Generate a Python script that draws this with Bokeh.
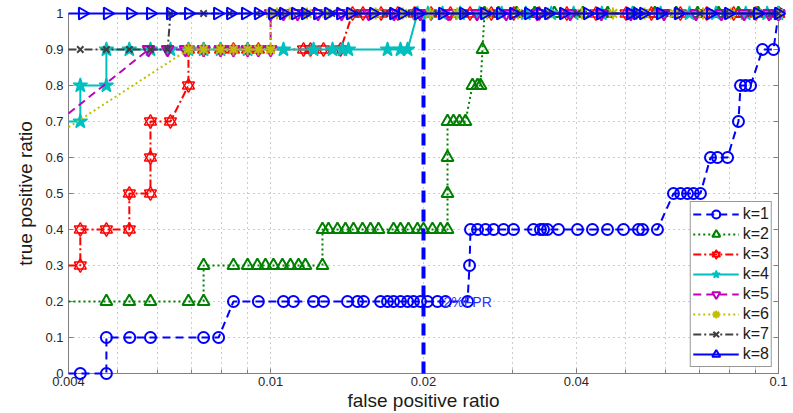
import math
from bokeh.plotting import figure
from bokeh.models import (Range1d, FixedTicker, LinearAxis, Legend, LegendItem,
                          CustomJSTickFormatter)
from bokeh.embed import file_html
from bokeh.resources import INLINE
from bokeh.core.properties import value

FONT = "Liberation Sans"

# ---------------- axes / ticks ----------------
x_major_ticks = [0.004, 0.01, 0.02, 0.04, 0.1]
x_tick_labels = ["0.004", "0.01", "0.02", "0.04", "0.1"]
x_minor_ticks = [0.005, 0.006, 0.007, 0.008, 0.009, 0.03, 0.05, 0.06, 0.07, 0.08, 0.09]
y_ticks = [0.0, 0.1, 0.2, 0.3, 0.4, 0.5, 0.6, 0.7, 0.8, 0.9, 1.0]
y_tick_labels = ["0", "0.1", "0.2", "0.3", "0.4", "0.5", "0.6", "0.7", "0.8", "0.9", "1"]

series_labels = ["k=1", "k=2", "k=3", "k=4", "k=5", "k=6", "k=7", "k=8"]

# ---------------- data (false positive ratio, true positive ratio) ----------------
k1_fpr = [0.004, 0.00422, 0.00475, 0.00475, 0.00528, 0.0058, 0.00738, 0.0079,
          0.00845, 0.00946, 0.0106, 0.01109, 0.01215, 0.01271, 0.01417, 0.01483,
          0.01524, 0.01646, 0.01699, 0.01746, 0.01802, 0.01861, 0.01911, 0.01973,
          0.02037, 0.02131, 0.0221, 0.02442,
          0.02464,
          0.02475, 0.02555, 0.0265, 0.02748, 0.02875, 0.03008, 0.03293, 0.03399,
          0.03446, 0.03509, 0.03688, 0.0402, 0.04303, 0.04606, 0.04952, 0.053,
          0.05399, 0.05776,
          0.06212, 0.06413, 0.0662, 0.0680, 0.0702,
          0.07347, 0.07584, 0.07937,
          0.0834,
          0.08418, 0.0861, 0.0881,
          0.093, 0.09776,
          0.1]
k1_tpr = [0.0, 0.0, 0.0, 0.1, 0.1, 0.1, 0.1, 0.1,
          0.2, 0.2, 0.2, 0.2, 0.2, 0.2, 0.2, 0.2,
          0.2, 0.2, 0.2, 0.2, 0.2, 0.2, 0.2, 0.2,
          0.2, 0.2, 0.2, 0.2,
          0.3,
          0.4, 0.4, 0.4, 0.4, 0.4, 0.4, 0.4, 0.4,
          0.4, 0.4, 0.4, 0.4, 0.4, 0.4, 0.4, 0.4,
          0.4, 0.4,
          0.5, 0.5, 0.5, 0.5, 0.5,
          0.6, 0.6, 0.6,
          0.7,
          0.8, 0.8, 0.8,
          0.9, 0.9,
          1.0]

k2_fpr = [0.004, 0.00475, 0.00527, 0.0058, 0.00689, 0.00738,
          0.00738, 0.00845, 0.00901, 0.00942, 0.00977, 0.01013, 0.01055, 0.01094,
          0.01135, 0.01171, 0.01265,
          0.01265, 0.013, 0.01354, 0.01404, 0.01456, 0.01517, 0.01573, 0.01631,
          0.01746, 0.01802, 0.01868, 0.01946, 0.02, 0.02083, 0.0216, 0.0223,
          0.0223, 0.0223,
          0.0223, 0.02291, 0.02354, 0.02419,
          0.02497, 0.02555, 0.0259,
          0.02613,
          0.02637, 0.0281, 0.0305, 0.0331, 0.0362, 0.0412, 0.0461, 0.0518,
          0.0571, 0.0629, 0.0693, 0.0762, 0.0834, 0.0912, 0.1]
k2_tpr = [0.2, 0.2, 0.2, 0.2, 0.2, 0.2,
          0.3, 0.3, 0.3, 0.3, 0.3, 0.3, 0.3, 0.3,
          0.3, 0.3, 0.3,
          0.4, 0.4, 0.4, 0.4, 0.4, 0.4, 0.4, 0.4,
          0.4, 0.4, 0.4, 0.4, 0.4, 0.4, 0.4, 0.4,
          0.5, 0.6,
          0.7, 0.7, 0.7, 0.7,
          0.8, 0.8, 0.8,
          0.9,
          1.0, 1.0, 1.0, 1.0, 1.0, 1.0, 1.0, 1.0,
          1.0, 1.0, 1.0, 1.0, 1.0, 1.0, 1.0]

k3_fpr = [0.004, 0.00422, 0.00422, 0.00475, 0.00527, 0.00527, 0.0058, 0.0058,
          0.0058, 0.00635, 0.00689, 0.00689,
          0.00738, 0.00797, 0.00845, 0.00901, 0.00946, 0.01161, 0.01198, 0.01271,
          0.01373,
          0.0145, 0.0152, 0.0165, 0.0178, 0.0192, 0.0207, 0.0226, 0.0247, 0.0272,
          0.0301, 0.0338, 0.0383, 0.0437, 0.0501, 0.0562, 0.0641, 0.0722, 0.0816,
          0.0903, 0.1]
k3_tpr = [0.3, 0.3, 0.4, 0.4, 0.4, 0.5, 0.5, 0.6,
          0.7, 0.7, 0.8, 0.9,
          0.9, 0.9, 0.9, 0.9, 0.9, 0.9, 0.9, 0.9,
          0.9,
          1.0, 1.0, 1.0, 1.0, 1.0, 1.0, 1.0, 1.0, 1.0,
          1.0, 1.0, 1.0, 1.0, 1.0, 1.0, 1.0, 1.0, 1.0,
          1.0, 1.0]

k4_fpr = [0.004, 0.00422, 0.00422, 0.00475, 0.00475,
          0.00527, 0.0058, 0.00635, 0.00689, 0.00738, 0.00797, 0.00901, 0.0106,
          0.01215, 0.01324, 0.01385, 0.01423, 0.01699, 0.01802, 0.01861,
          0.01946, 0.0204, 0.0218, 0.0236, 0.0258, 0.0285, 0.0318, 0.0357, 0.0395,
          0.0449, 0.0516, 0.0586, 0.0668, 0.0753, 0.0862, 0.095, 0.1]
k4_tpr = [0.7, 0.7, 0.8, 0.8, 0.9,
          0.9, 0.9, 0.9, 0.9, 0.9, 0.9, 0.9, 0.9,
          0.9, 0.9, 0.9, 0.9, 0.9, 0.9, 0.9,
          1.0, 1.0, 1.0, 1.0, 1.0, 1.0, 1.0, 1.0, 1.0,
          1.0, 1.0, 1.0, 1.0, 1.0, 1.0, 1.0, 1.0]

k5_fpr = [0.004,
          0.00575, 0.00627, 0.0068, 0.00738, 0.00797, 0.00845, 0.00901, 0.00946, 0.01,
          0.01, 0.0106, 0.0113, 0.0124, 0.0138, 0.0156, 0.0175, 0.0197, 0.0224,
          0.0255, 0.0291, 0.0335, 0.0389, 0.0448, 0.0512, 0.0595, 0.0688, 0.0772,
          0.0856, 0.0958, 0.1]
k5_tpr = [0.722,
          0.9, 0.9, 0.9, 0.9, 0.9, 0.9, 0.9, 0.9, 0.9,
          1.0, 1.0, 1.0, 1.0, 1.0, 1.0, 1.0, 1.0, 1.0,
          1.0, 1.0, 1.0, 1.0, 1.0, 1.0, 1.0, 1.0, 1.0,
          1.0, 1.0, 1.0]

k6_fpr = [0.004,
          0.00689, 0.00738, 0.00797, 0.00845, 0.00901, 0.00946, 0.01,
          0.01, 0.0103, 0.0109, 0.0118, 0.0129, 0.0143, 0.0161, 0.0182, 0.0206,
          0.0233, 0.0267, 0.0307, 0.0352, 0.041, 0.0472, 0.0545, 0.0624, 0.071,
          0.0805, 0.0905, 0.1]
k6_tpr = [0.684,
          0.9, 0.9, 0.9, 0.9, 0.9, 0.9, 0.9,
          1.0, 1.0, 1.0, 1.0, 1.0, 1.0, 1.0, 1.0, 1.0,
          1.0, 1.0, 1.0, 1.0, 1.0, 1.0, 1.0, 1.0, 1.0,
          1.0, 1.0, 1.0]

k7_fpr = [0.004, 0.00422, 0.00475, 0.00527, 0.0058, 0.00627,
          0.00635, 0.00738, 0.0083, 0.0094, 0.0105, 0.0117, 0.0132, 0.0149, 0.0168,
          0.0189, 0.0213, 0.0241, 0.0273, 0.031, 0.0352, 0.0401, 0.0456, 0.052,
          0.0598, 0.07, 0.0784, 0.0883, 0.0968, 0.1]
k7_tpr = [0.9, 0.9, 0.9, 0.9, 0.9, 0.9,
          1.0, 1.0, 1.0, 1.0, 1.0, 1.0, 1.0, 1.0, 1.0,
          1.0, 1.0, 1.0, 1.0, 1.0, 1.0, 1.0, 1.0, 1.0,
          1.0, 1.0, 1.0, 1.0, 1.0, 1.0]

k8_fpr = [0.004, 0.00426, 0.00477, 0.0053, 0.0058, 0.00635, 0.00689, 0.00786,
          0.00834, 0.00892, 0.00946, 0.01009, 0.0106, 0.01119, 0.01171, 0.01237,
          0.013, 0.01373, 0.01436, 0.01594, 0.01746, 0.01818, 0.01955, 0.0218,
          0.02398, 0.02637, 0.02835, 0.03008, 0.03219, 0.03399, 0.03525, 0.03773,
          0.04206, 0.04462, 0.05112, 0.05277, 0.05423, 0.05857, 0.06354, 0.07347,
          0.07971, 0.09092, 0.1]
k8_tpr = [1.0, 1.0, 1.0, 1.0, 1.0, 1.0, 1.0, 1.0,
          1.0, 1.0, 1.0, 1.0, 1.0, 1.0, 1.0, 1.0,
          1.0, 1.0, 1.0, 1.0, 1.0, 1.0, 1.0, 1.0,
          1.0, 1.0, 1.0, 1.0, 1.0, 1.0, 1.0, 1.0,
          1.0, 1.0, 1.0, 1.0, 1.0, 1.0, 1.0, 1.0,
          1.0, 1.0, 1.0]

threshold_fpr = [0.02, 0.02]
threshold_tpr = [0.0, 1.0]
threshold_label = "2%FPR"
threshold_label_fpr = [0.0219]
threshold_label_tpr = [0.2]

series_fpr = [k1_fpr, k2_fpr, k3_fpr, k4_fpr, k5_fpr, k6_fpr, k7_fpr, k8_fpr]
series_tpr = [k1_tpr, k2_tpr, k3_tpr, k4_tpr, k5_tpr, k6_tpr, k7_tpr, k8_tpr]

# ---------------- styles ----------------
styles = [
    dict(color="#0000ff", dash="8 5", markers=[("circle", 0.0)], size=11, fill=None, mlw=2),
    dict(color="#008000", dash="2 3", markers=[("triangle", 0.0)], size=12, fill=None, mlw=2),
    dict(color="#ff0000", dash="8 3 2 3", markers=[("triangle", 0.0), ("inverted_triangle", 0.0)], size=12, fill=None, mlw=1.4),
    dict(color="#00bfbf", dash="solid", markers=[("star", 0.0)], size=15, fill="#00bfbf", mlw=1.5),
    dict(color="#bf00bf", dash="8 5", markers=[("inverted_triangle", 0.0)], size=12, fill=None, mlw=2),
    dict(color="#bfbf00", dash="2 3", markers=[("asterisk", 0.0)], size=12, fill=None, mlw=2),
    dict(color="#404040", dash="8 3 2 3", markers=[("x", 0.0)], size=9, fill=None, mlw=2),
    dict(color="#0000ff", dash="solid", markers=[("triangle", -math.pi / 2)], size=12, fill=None, mlw=2),
]

p = figure(width=793, height=413, x_axis_type="log",
           x_range=Range1d(0.004, 0.1), y_range=Range1d(0.0, 1.0),
           output_backend="svg", toolbar_location=None,
           min_border_left=68, min_border_right=15, min_border_top=13, min_border_bottom=40,
           x_axis_label="false positive ratio", y_axis_label="true positive ratio")
p.background_fill_color = "white"
p.border_fill_color = "white"
p.outline_line_color = "#808080"

fmt_code = """
for (let i = 0; i < vals.length; i++) {
  if (Math.abs(vals[i] - tick) < 1e-9) { return labs[i]; }
}
return "";
"""
xa = p.xaxis[0]
ya = p.yaxis[0]
xticker = FixedTicker(ticks=x_major_ticks, minor_ticks=x_minor_ticks)
yticker = FixedTicker(ticks=y_ticks)
xa.ticker = xticker
ya.ticker = yticker
xa.formatter = CustomJSTickFormatter(args=dict(vals=x_major_ticks, labs=x_tick_labels), code=fmt_code)
ya.formatter = CustomJSTickFormatter(args=dict(vals=y_ticks, labs=y_tick_labels), code=fmt_code)
p.xgrid[0].ticker = xticker
p.ygrid[0].ticker = yticker

for ax in (xa, ya):
    ax.major_tick_in = 5
    ax.major_tick_out = 0
    ax.minor_tick_in = 4
    ax.minor_tick_out = 0
    ax.axis_line_color = "#808080"
    ax.major_tick_line_color = "#808080"
    ax.minor_tick_line_color = "#808080"
    ax.major_label_text_font = FONT
    ax.major_label_text_font_size = "13px"
    ax.major_label_text_color = "#262626"
    ax.axis_label_text_font = FONT
    ax.axis_label_text_font_size = "19px"
    ax.axis_label_text_font_style = "normal"
    ax.axis_label_text_color = "#1a1a1a"
ya.minor_tick_line_color = None
xa.major_label_standoff = 3
ya.major_label_standoff = 5
xa.axis_label_standoff = 1
ya.axis_label_standoff = 6

ra = LinearAxis(ticker=FixedTicker(ticks=y_ticks),
                formatter=CustomJSTickFormatter(code="return '';"),
                major_tick_in=5, major_tick_out=0, minor_tick_line_color=None,
                major_label_standoff=0, axis_line_color="#808080",
                major_tick_line_color="#808080")
p.add_layout(ra, "right")

for g in (p.xgrid[0], p.ygrid[0]):
    g.grid_line_color = "#9a9a9a"
    g.grid_line_dash = "1 4"
p.xgrid[0].minor_grid_line_color = "#9a9a9a"
p.xgrid[0].minor_grid_line_dash = "1 4"

items = []
for label, xs, ys, st in zip(series_labels, series_fpr, series_tpr, styles):
    lr = p.line(xs, ys, line_color=st["color"], line_width=2, line_dash=st["dash"],
                level="overlay")
    mx = [x for x in xs if x > 0.004]
    my = [y for x, y in zip(xs, ys) if x > 0.004]
    rends = [lr]
    for mk, ang in st["markers"]:
        mr = p.scatter(mx, my, marker=mk, size=st["size"], angle=ang,
                       line_color=st["color"], line_width=st["mlw"],
                       fill_color=st["fill"], level="overlay")
        rends.append(mr)
    items.append(LegendItem(label=label, renderers=rends))

# threshold text and line (on top)
p.text(x=threshold_label_fpr, y=threshold_label_tpr, text=[threshold_label],
       text_font=value(FONT), text_font_size="14px", text_color="#3030ff",
       text_baseline="middle", text_align="left", level="overlay")
p.line(threshold_fpr, threshold_tpr, line_color="#0000ff", line_width=4,
       line_dash="12 7", level="overlay")

legend = Legend(items=items, location="bottom_right", margin=6, padding=2,
                spacing=0, glyph_width=46, glyph_height=20, label_height=20,
                label_standoff=4, label_text_font=FONT, label_text_font_size="16px",
                label_text_color="#1a1a1a", border_line_color="#333333",
                background_fill_color="white", background_fill_alpha=1.0)
p.add_layout(legend)

open("out.html", "w").write(file_html(p, INLINE))
